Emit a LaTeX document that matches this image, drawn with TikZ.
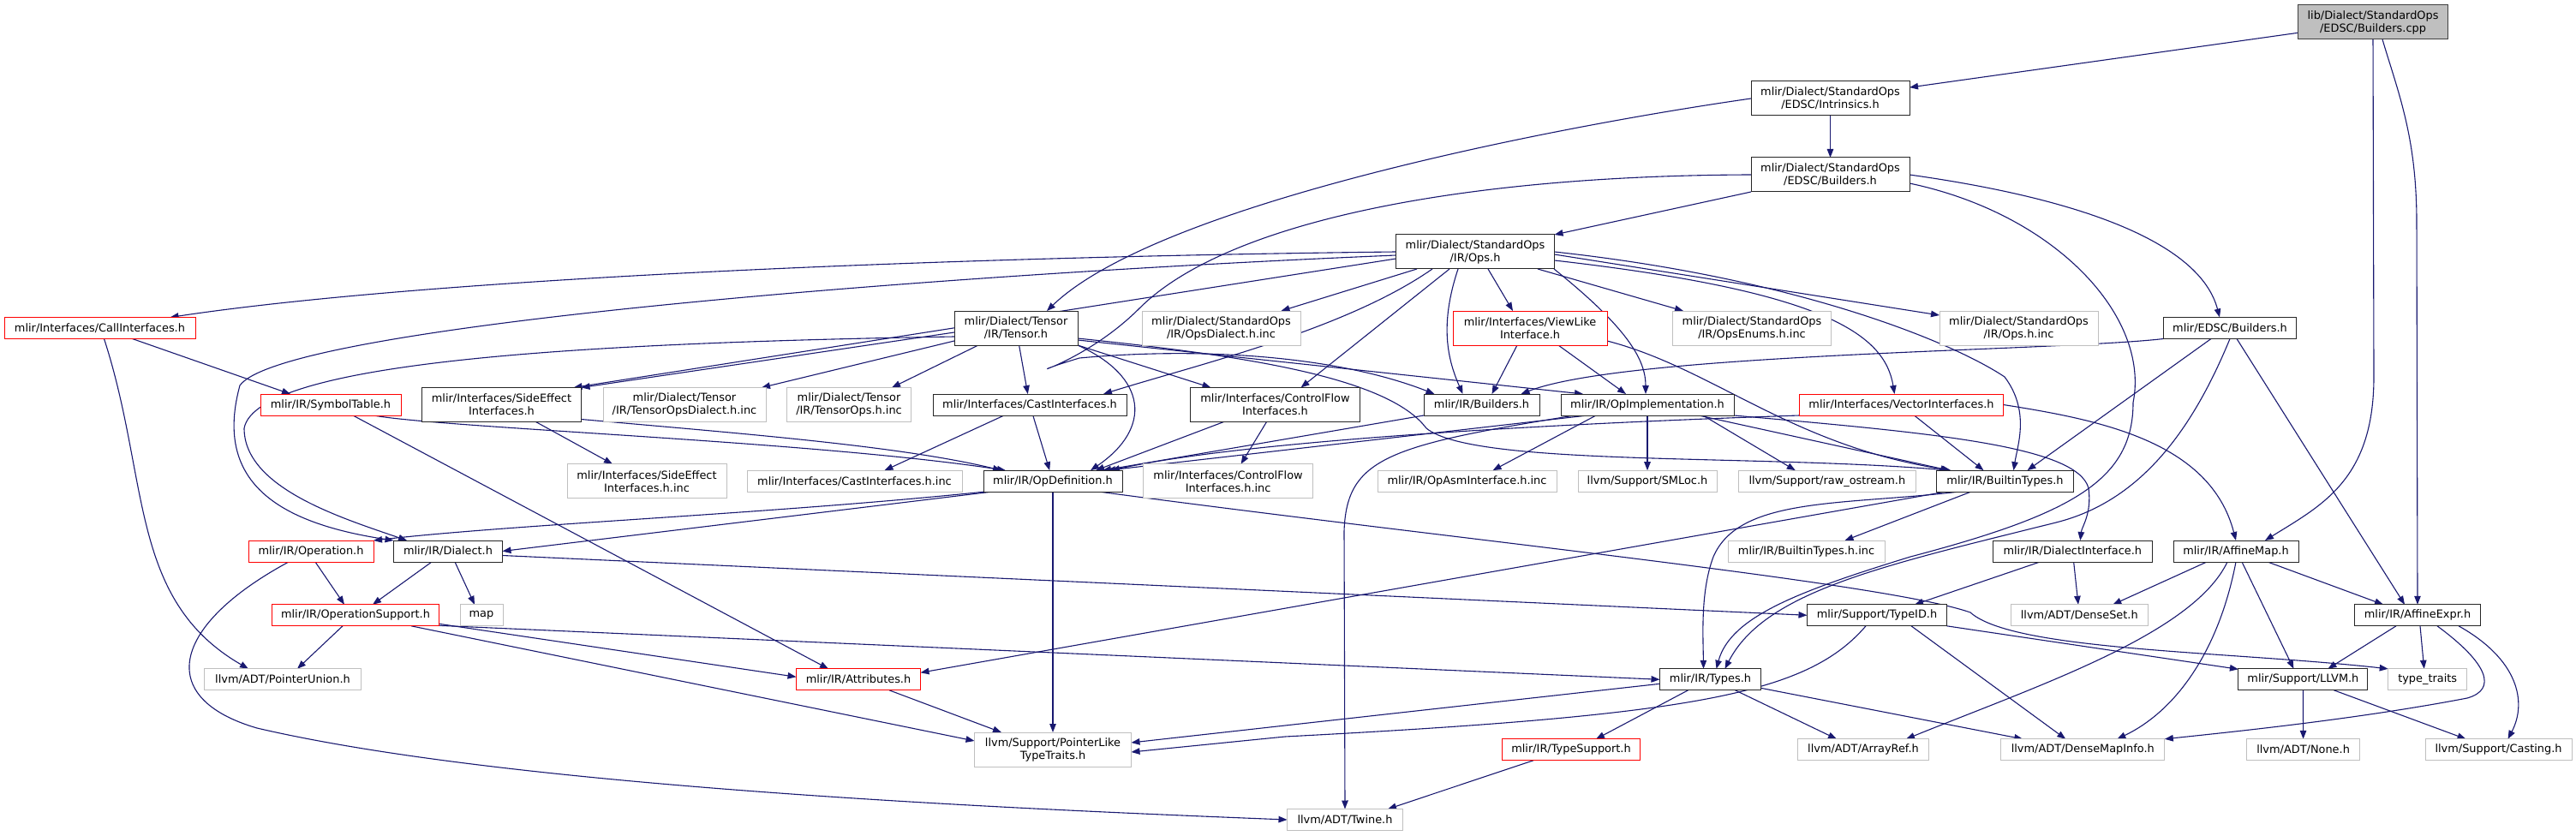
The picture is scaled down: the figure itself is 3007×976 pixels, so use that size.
\documentclass[tikz,border=0pt]{standalone}
\usepackage{fontspec}
\setmainfont{DejaVu Sans}
\usetikzlibrary{arrows.meta}
\definecolor{edgec}{HTML}{191970}
\definecolor{grayb}{HTML}{BFBFBF}
\definecolor{redb}{HTML}{FF0000}
\newcommand\nfont{\fontsize{12.9pt}{15pt}\selectfont}
\pgfdeclarelayer{bg}
\pgfsetlayers{bg,main}
\tikzset{
  nd/.style={rectangle, fill=white, inner sep=0pt, outer sep=0pt, align=center, font=\nfont, line width=1pt},
  bk/.style={nd, draw=black!85},
  rd/.style={nd, draw=redb},
  gy/.style={nd, draw=grayb},
  rt/.style={nd, draw=black!75, fill=grayb},
  sz/.style 2 args={minimum width=#1pt, minimum height=#2pt},
  lnk/.style={draw=edgec, line width=1.1pt, -{Triangle[length=10pt,width=7.5pt]}}
}
\begin{document}
\begin{tikzpicture}[x=1pt,y=-1pt]
\useasboundingbox (0,0) rectangle (3007,976);
% ---------- nodes ----------
\node[rt,sz={175}{40}] (root) at (2770,26) {lib/Dialect/StandardOps\\/EDSC/Builders.cpp};
\node[bk,sz={185}{40}] (intr) at (2136.5,115) {mlir/Dialect/StandardOps\\/EDSC/Intrinsics.h};
\node[bk,sz={185}{40}] (sobld) at (2136.5,204) {mlir/Dialect/StandardOps\\/EDSC/Builders.h};
\node[bk,sz={185}{40}] (ops) at (1722,294) {mlir/Dialect/StandardOps\\/IR/Ops.h};
\node[bk,sz={144}{40}] (tensor) at (1186,383) {mlir/Dialect/Tensor\\/IR/Tensor.h};
\node[gy,sz={185}{40}] (opsdialinc) at (1425.5,383) {mlir/Dialect/StandardOps\\/IR/OpsDialect.h.inc};
\node[rd,sz={180}{40}] (viewlike) at (1786,383) {mlir/Interfaces/ViewLike\\Interface.h};
\node[gy,sz={185}{40}] (opsenums) at (2045,383) {mlir/Dialect/StandardOps\\/IR/OpsEnums.h.inc};
\node[gy,sz={185}{40}] (opsinc) at (2356.5,383) {mlir/Dialect/StandardOps\\/IR/Ops.h.inc};
\node[bk,sz={155}{25}] (edscb) at (2603,383) {mlir/EDSC/Builders.h};
\node[rd,sz={223}{25}] (callif) at (116.5,383) {mlir/Interfaces/CallInterfaces.h};
\node[rd,sz={164}{25}] (symtab) at (386,472.5) {mlir/IR/SymbolTable.h};
\node[bk,sz={186}{40}] (sideeff) at (585.5,472.5) {mlir/Interfaces/SideEffect\\Interfaces.h};
\node[gy,sz={190}{40}] (tensordialinc) at (799,472.5) {mlir/Dialect/Tensor\\/IR/TensorOpsDialect.h.inc};
\node[gy,sz={145}{40}] (tensoropsinc) at (991,472.5) {mlir/Dialect/Tensor\\/IR/TensorOps.h.inc};
\node[bk,sz={226}{25}] (castif) at (1202,472.5) {mlir/Interfaces/CastInterfaces.h};
\node[bk,sz={198}{40}] (ctrlflow) at (1488.5,472.5) {mlir/Interfaces/ControlFlow\\Interfaces.h};
\node[bk,sz={135}{25}] (irbld) at (1729.5,472.5) {mlir/IR/Builders.h};
\node[bk,sz={202}{25}] (opimpl) at (1923,472.5) {mlir/IR/OpImplementation.h};
\node[rd,sz={238}{25}] (vecif) at (2219.5,472.5) {mlir/Interfaces/VectorInterfaces.h};
\node[gy,sz={186}{40}] (sideeffinc) at (755,561.7) {mlir/Interfaces/SideEffect\\Interfaces.h.inc};
\node[gy,sz={251}{25}] (castinc) at (997.5,561.7) {mlir/Interfaces/CastInterfaces.h.inc};
\node[bk,sz={162}{25}] (opdef) at (1229,561.7) {mlir/IR/OpDefinition.h};
\node[gy,sz={198}{40}] (ctrlinc) at (1433.6,561.7) {mlir/Interfaces/ControlFlow\\Interfaces.h.inc};
\node[gy,sz={209}{25}] (opasminc) at (1712.5,561.7) {mlir/IR/OpAsmInterface.h.inc};
\node[gy,sz={162}{25}] (smloc) at (1923,561.7) {llvm/Support/SMLoc.h};
\node[gy,sz={207}{25}] (rawos) at (2132.8,561.7) {llvm/Support/raw\_ostream.h};
\node[bk,sz={160}{25}] (builtintypes) at (2340.5,561.7) {mlir/IR/BuiltinTypes.h};
\node[rd,sz={146}{25}] (operation) at (363,643.5) {mlir/IR/Operation.h};
\node[bk,sz={127}{25}] (dialect) at (523,643.5) {mlir/IR/Dialect.h};
\node[gy,sz={183}{25}] (builtinc) at (2108.5,643.5) {mlir/IR/BuiltinTypes.h.inc};
\node[bk,sz={186}{25}] (dialif) at (2419.3,643.5) {mlir/IR/DialectInterface.h};
\node[bk,sz={146}{25}] (affmap) at (2610,643.5) {mlir/IR/AffineMap.h};
\node[rd,sz={195}{25}] (opsupport) at (415,718.3) {mlir/IR/OperationSupport.h};
\node[gy,sz={50}{25}] (map) at (562,718.3) {map};
\node[bk,sz={163}{25}] (typeid) at (2191,718.3) {mlir/Support/TypeID.h};
\node[gy,sz={160}{25}] (denseset) at (2427.3,718.3) {llvm/ADT/DenseSet.h};
\node[bk,sz={147}{25}] (affexpr) at (2822,718.3) {mlir/IR/AffineExpr.h};
\node[gy,sz={183}{25}] (ptrunion) at (330,793.3) {llvm/ADT/PointerUnion.h};
\node[rd,sz={145}{25}] (attrs) at (1002,793.3) {mlir/IR/Attributes.h};
\node[bk,sz={118}{25}] (types) at (1996.5,793.3) {mlir/IR/Types.h};
\node[bk,sz={151}{25}] (llvm) at (2688.4,793.3) {mlir/Support/LLVM.h};
\node[gy,sz={92}{25}] (typetraits) at (2833.7,793.3) {type\_traits};
\node[gy,sz={183}{40}] (ptrlike) at (1229,875) {llvm/Support/PointerLike\\TypeTraits.h};
\node[rd,sz={161}{25}] (typesupport) at (1834,875.3) {mlir/IR/TypeSupport.h};
\node[gy,sz={153}{25}] (arrayref) at (2175,875.3) {llvm/ADT/ArrayRef.h};
\node[gy,sz={191}{25}] (densemapinfo) at (2431.3,875.3) {llvm/ADT/DenseMapInfo.h};
\node[gy,sz={132}{25}] (none) at (2688.6,875.3) {llvm/ADT/None.h};
\node[gy,sz={171}{25}] (casting) at (2916.5,875.3) {llvm/Support/Casting.h};
\node[gy,sz={135}{25}] (twine) at (1570,957) {llvm/ADT/Twine.h};
% ---------- edges ----------
\begin{pgfonlayer}{bg}
% root
\draw[lnk] (root) -- (intr);
\draw[lnk] (root.south) -- (2771,440) .. controls (2771,560) and (2710,590) .. ([xshift=34pt]affmap.north);
\draw[lnk] ([xshift=11pt]root.south) .. controls (2800,110) and (2821,160) .. (2821,260) -- (affexpr.north);
% intrinsics
\draw[lnk] (intr) -- (sobld);
\draw[lnk] (intr.west) .. controls (1800,150) and (1350,240) .. ([xshift=36pt]tensor.north);
% SO/EDSC/Builders.h
\draw[lnk] (sobld.south west) -- (ops.north east);
\draw[lnk] (sobld.east) .. controls (2450,235) and (2570,290) .. ([xshift=-12pt]edscb.north);
\draw[lnk] (sobld.west) .. controls (1700,205) and (1430,260) .. (1330,360) .. controls (1260,430) and (1170,445) .. (1260,418) .. controls (1400,405) and (1560,415) .. ([xshift=-55pt]irbld.north);
\draw[lnk] ([yshift=-10pt]sobld.east) .. controls (2400,250) and (2510,370) .. (2490,470) .. controls (2490,560) and (2420,600) .. (2230,650) .. controls (2100,690) and (2020,720) .. ([xshift=7pt]types.north);
% Ops.h
\draw[lnk] (ops.west) .. controls (1100,300) and (500,325) .. ([xshift=82pt]callif.north);
\draw[lnk] ([yshift=-8pt]ops.west) -- ([xshift=84pt]sideeff.north);
\draw[lnk] ([yshift=-4pt]ops.west) .. controls (1100,320) and (330,380) .. (280,450) .. controls (250,560) and (320,610) .. (dialect.north west);
\draw[lnk] ([xshift=-68pt]ops.south) -- ([xshift=70pt]opsdialinc.north);
\draw[lnk] ([xshift=-50pt]ops.south) .. controls (1570,385) and (1400,425) .. ([xshift=86pt]castif.north);
\draw[lnk] ([xshift=-30pt]ops.south) -- ([xshift=30pt]ctrlflow.north);
\draw[lnk] ([xshift=-20pt]ops.south) .. controls (1680,380) and (1690,420) .. ([xshift=-22pt]irbld.north);
\draw[lnk] ([xshift=15pt]ops.south) -- ([xshift=-20pt]viewlike.north);
\draw[lnk] ([xshift=73pt]ops.south) -- ([xshift=-80pt]opsenums.north);
\draw[lnk] ([xshift=92pt]ops.south) .. controls (1900,383) and (1921,420) .. ([xshift=-2pt]opimpl.north);
\draw[lnk] ([yshift=-10pt]ops.east) .. controls (2130,340) and (2200,390) .. ([xshift=-8pt]vecif.north);
\draw[lnk] ([yshift=-3pt]ops.east) -- ([yshift=15pt]opsinc.west);
\draw[lnk] (ops.east) .. controls (2100,325) and (2280,400) .. (2340,440) .. controls (2370,480) and (2355,520) .. ([xshift=10pt]builtintypes.north);
% Tensor.h
\draw[lnk] ([yshift=-12pt]tensor.east) .. controls (1450,415) and (1620,440) .. (1665,500) .. controls (1720,545) and (2050,530) .. ([xshift=-65pt]builtintypes.north);
\draw[lnk] ([yshift=-10pt]tensor.west) .. controls (700,400) and (300,420) .. (285,500) .. controls (285,570) and (400,605) .. ([xshift=-48pt]dialect.north);
\draw[lnk] (tensor.south east) .. controls (1340,440) and (1345,500) .. ([xshift=44pt]opdef.north);
\draw[lnk] ([yshift=-14pt]tensor.east) -- ([xshift=-75pt]opimpl.north);
\draw[lnk] (tensor) -- (castif);
\draw[lnk] (tensor.south east) -- ([xshift=-75pt]ctrlflow.north);
\draw[lnk] ([yshift=-5pt]tensor.west) -- (sideeff.north east);
\draw[lnk] ([yshift=-15pt]tensor.west) -- ([xshift=90pt]tensordialinc.north);
\draw[lnk] ([xshift=-44pt]tensor.south) -- ([xshift=50pt]tensoropsinc.north);
% CallInterfaces / SymbolTable
\draw[lnk] ([xshift=38pt]callif.south) -- ([xshift=-47pt]symtab.north);
\draw[lnk] ([xshift=5pt]callif.south) .. controls (175,560) and (150,700) .. ([xshift=-40pt]ptrunion.north);
\draw[lnk] ([xshift=50pt]symtab.south) .. controls (520,500) and (950,515) .. ([xshift=-55pt]opdef.north);
\draw[lnk] ([xshift=26pt]symtab.south) -- ([xshift=-35pt]attrs.north);
% interfaces
\draw[lnk] ([xshift=40pt]sideeff.south) -- ([xshift=-40pt]sideeffinc.north);
\draw[lnk] ([yshift=-17pt]sideeff.east) .. controls (850,505) and (1050,520) .. ([xshift=-60pt]opdef.north);
\draw[lnk] ([xshift=-30pt]castif.south) -- ([xshift=35pt]castinc.north);
\draw[lnk] (castif) -- (opdef);
\draw[lnk] ([xshift=-10pt]ctrlflow.south) -- ([xshift=15pt]ctrlinc.north);
\draw[lnk] ([xshift=-60pt]ctrlflow.south) -- ([xshift=50pt]opdef.north);
\draw[lnk] ([xshift=-15pt]viewlike.south) -- ([xshift=12pt]irbld.north);
\draw[lnk] ([xshift=33pt]viewlike.south) -- ([xshift=-25pt]opimpl.north);
\draw[lnk] ([yshift=-15pt]viewlike.east) .. controls (2000,430) and (2090,520) .. ([xshift=-63pt]builtintypes.north);
\draw[lnk] ([xshift=15pt]vecif.south) -- ([xshift=-25pt]builtintypes.north);
\draw[lnk] (vecif.south west) .. controls (1800,495) and (1450,515) .. ([xshift=68pt]opdef.north);
\draw[lnk] (vecif.east) .. controls (2450,490) and (2580,515) .. (affmap.north);
% Builders / OpImplementation
\draw[lnk] (irbld.south west) -- ([xshift=58pt]opdef.north);
\draw[lnk] ([xshift=-70pt]opimpl.south) -- ([xshift=63pt]opdef.north);
\draw[lnk] ([xshift=60pt]opimpl.south) -- ([xshift=-65pt]builtintypes.north);
\draw[lnk] (opimpl.south east) .. controls (2250,505) and (2425,520) .. (2438,570) .. controls (2442,600) and (2430,615) .. ([xshift=9pt]dialif.north);
\draw[lnk] ([xshift=-60pt]opimpl.south) -- ([xshift=30pt]opasminc.north);
\draw[lnk] (opimpl) -- (smloc);
\draw[lnk] ([xshift=65pt]opimpl.south) -- ([xshift=-37pt]rawos.north);
\draw[lnk] ([xshift=-85pt]opimpl.south) .. controls (1620,520) and (1572,535) .. (1569,620) -- (twine.north);
% EDSC/Builders.h
\draw[lnk] (edscb.south west) .. controls (2400,410) and (1900,412) .. ([xshift=46pt]irbld.north);
\draw[lnk] ([xshift=-22pt]edscb.south) -- ([xshift=26pt]builtintypes.north);
\draw[lnk] (edscb.south) .. controls (2560,500) and (2500,585) .. (2400,610) .. controls (2200,660) and (2060,690) .. ([xshift=17pt]types.north);
\draw[lnk] ([xshift=8pt]edscb.south) -- ([xshift=-15pt]affexpr.north);
% OpDefinition.h
\draw[lnk] (opdef.south west) .. controls (900,600) and (600,612) .. (operation.north east);
\draw[lnk] ([xshift=-72pt]opdef.south) -- (dialect.east);
\draw[lnk] (opdef) -- (ptrlike);
\draw[lnk] ([xshift=55pt]opdef.south) .. controls (1700,630) and (2200,680) .. (2300,715) .. controls (2350,760) and (2600,760) .. (typetraits.north west);
% Operation / Dialect / OperationSupport
\draw[lnk] ([xshift=5pt]operation.south) -- ([xshift=-13pt]opsupport.north);
\draw[lnk] ([xshift=-26pt]operation.south) .. controls (200,730) and (180,815) .. (300,850) .. controls (600,920) and (1200,945) .. (twine.west);
\draw[lnk] ([xshift=-19pt]dialect.south) -- ([xshift=20pt]opsupport.north);
\draw[lnk] ([xshift=8pt]dialect.south) -- ([xshift=-8pt]map.north);
\draw[lnk] ([yshift=-5pt]dialect.east) -- (typeid.west);
\draw[lnk] ([xshift=-15pt]opsupport.south) -- ([xshift=17pt]ptrunion.north);
\draw[lnk] ([yshift=-10pt]opsupport.east) -- ([yshift=3pt]attrs.west);
\draw[lnk] ([yshift=-12pt]opsupport.east) -- (types.west);
\draw[lnk] ([xshift=65pt]opsupport.south) -- ([yshift=10pt]ptrlike.west);
\draw[lnk] ([xshift=36pt]attrs.south) -- ([xshift=-60pt]ptrlike.north);
% BuiltinTypes.h
\draw[lnk] ([xshift=-40pt]builtintypes.south) -- ([xshift=45pt]builtinc.north);
\draw[lnk] ([xshift=-55pt]builtintypes.south) .. controls (2150,590) and (2030,580) .. (2000,650) .. controls (1985,690) and (1988,740) .. ([xshift=-8pt]types.north);
\draw[lnk] ([xshift=-70pt]builtintypes.south) -- ([yshift=8pt]attrs.east);
% DialectInterface / TypeID
\draw[lnk] ([xshift=-38pt]dialif.south) -- ([xshift=44pt]typeid.north);
\draw[lnk] (dialif) -- (denseset);
\draw[lnk] (typeid.south east) -- ([yshift=12pt]llvm.west);
\draw[lnk] ([xshift=40pt]typeid.south) -- ([xshift=-20pt]densemapinfo.north);
\draw[lnk] ([xshift=-13pt]typeid.south) .. controls (2110,810) and (1980,835) .. (1500,860) -- ([yshift=-3pt]ptrlike.east);
% Types.h
\draw[lnk] ([xshift=-26pt]types.south) -- ([xshift=29pt]typesupport.north);
\draw[lnk] ([xshift=29pt]types.south) -- ([xshift=-31pt]arrayref.north);
\draw[lnk] ([yshift=-10pt]types.east) -- ([xshift=-70pt]densemapinfo.north);
\draw[lnk] ([yshift=-5pt]types.west) -- ([yshift=8pt]ptrlike.east);
\draw[lnk] ([xshift=-44pt]typesupport.south) -- ([xshift=50pt]twine.north);
% AffineMap.h
\draw[lnk] ([xshift=37pt]affmap.south) -- ([xshift=-40pt]affexpr.north);
\draw[lnk] ([xshift=-34pt]affmap.south) -- ([xshift=39pt]denseset.north);
\draw[lnk] ([xshift=-10pt]affmap.south) .. controls (2560,740) and (2380,800) .. ([xshift=50pt]arrayref.north);
\draw[lnk] (affmap.south) .. controls (2590,760) and (2540,830) .. ([xshift=40pt]densemapinfo.north);
\draw[lnk] ([xshift=7pt]affmap.south) -- ([xshift=-11pt]llvm.north);
% AffineExpr.h
\draw[lnk] ([xshift=-25pt]affexpr.south) -- ([xshift=29pt]llvm.north);
\draw[lnk] ([xshift=3pt]affexpr.south) -- ([xshift=-4pt]typetraits.north);
\draw[lnk] ([xshift=23pt]affexpr.south) .. controls (2905,775) and (2915,805) .. (2880,815) .. controls (2750,840) and (2600,855) .. (densemapinfo.north east);
\draw[lnk] ([xshift=48pt]affexpr.south) .. controls (2940,770) and (2950,820) .. ([xshift=11pt]casting.north);
% LLVM.h
\draw[lnk] (llvm) -- (none);
\draw[lnk] ([xshift=36pt]llvm.south) -- ([xshift=-38pt]casting.north);
\end{pgfonlayer}
\end{tikzpicture}
\end{document}
